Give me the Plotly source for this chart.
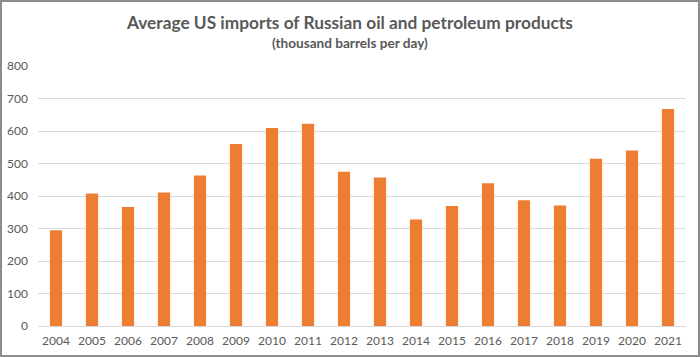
import plotly.graph_objects as go

years = [str(y) for y in range(2004, 2022)]
imports = [295, 408, 366, 411, 463, 560, 609, 622, 475, 457, 328, 369, 439, 387, 371, 515, 540, 668]
y_ticks = [0, 100, 200, 300, 400, 500, 600, 700, 800]

W, H = 700, 357
L, R, T, B = 38, 14, 66, 31

fig = go.Figure(go.Bar(x=years, y=imports, marker_color="#ED7D31", marker_line_width=0))

fig.update_layout(
    width=W, height=H,
    margin=dict(l=L, r=R, t=T, b=B),
    paper_bgcolor="white", plot_bgcolor="white",
    bargap=0.66,
    showlegend=False,
    font=dict(family="Lato, Carlito, sans-serif", color="#595959", size=12),
    xaxis=dict(type="category", showgrid=False, showline=True, linecolor="#D9D9D9",
               ticks="", tickfont=dict(size=12, color="#595959"), automargin=False,
               ticklabelstandoff=4),
    yaxis=dict(range=[0, 800], tickvals=y_ticks, showgrid=True, gridcolor="#D9D9D9",
               gridwidth=1, zeroline=False, showline=False, ticks="", automargin=False,
               tickfont=dict(size=12, color="#595959"), ticklabelstandoff=9),
)

pw, ph = W - L - R, H - T - B
fig.add_annotation(text="<b>Average US imports of Russian oil and petroleum products</b>",
                   xref="paper", yref="paper", x=(349 - L)/pw, y=(H - B - 23)/ph,
                   showarrow=False, font=dict(size=17.3, color="#595959"), yanchor="middle")
fig.add_annotation(text="<b>(thousand barrels per day)</b>",
                   xref="paper", yref="paper", x=(350 - L)/pw, y=(H - B - 42.5)/ph,
                   showarrow=False, font=dict(size=13.6, color="#595959"), yanchor="middle")
# outer frame
fig.add_shape(type="rect", xref="paper", yref="paper",
              x0=(1 - L)/pw, x1=(W - 1 - L)/pw, y0=(1 - B)/ph, y1=(H - 1 - B)/ph,
              line=dict(color="#8C8C8C", width=2), fillcolor="rgba(0,0,0,0)")

fig.write_html("out.html", config={"displayModeBar": False},
               post_script="document.body.style.margin='0';")
